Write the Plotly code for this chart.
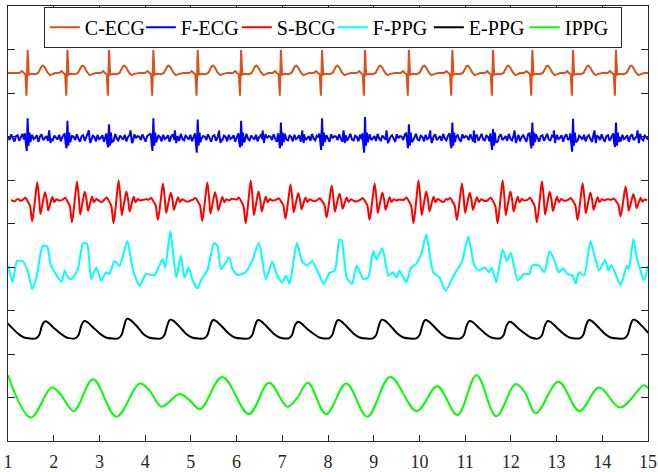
import numpy as np
import plotly.graph_objects as go

# ---------------- data ----------------
# R-peak (beat) times, seconds
r_peaks = [1.43, 2.30, 3.21, 4.18, 5.15, 6.10, 6.97, 7.87, 8.81, 9.77, 10.72, 11.61, 12.47, 13.36, 14.30]

# C-ECG: baseline and one beat shape (offset from R in s, value above baseline)
c_ecg_base = 8.46
c_ecg_off = [-0.30, -0.18, -0.13, -0.09, -0.05, -0.025, 0.0, 0.025, 0.08, 0.16, 0.23, 0.27, 0.31, 0.34, 0.38, 0.43, 0.49, 0.56, 0.62]
c_ecg_val = [0.0, 0.0, 0.045, 0.0, -0.03, -0.52, 0.53, -0.04, -0.02, -0.03, 0.0, 0.08, 0.16, 0.17, 0.12, 0.02, -0.05, -0.02, 0.0]

# F-ECG: baseline, spike tops / bottoms per beat, texture of the noise
f_ecg_base = 6.97
f_ecg_top = [0.45, 0.39, 0.31, 0.45, 0.42, 0.39, 0.35, 0.45, 0.48, 0.31, 0.35, 0.20, 0.35, 0.44, 0.35]
f_ecg_bot = [-0.30, -0.24, -0.22, -0.30, -0.34, -0.22, -0.24, -0.28, -0.34, -0.24, -0.24, -0.28, -0.24, -0.32, -0.21]
noise_pattern = [0.3, -0.5, 0.8, -0.2, -0.9, 0.4, 0.6, -0.7, 0.1, 0.9, -0.4, -0.6, 0.5, 0.2, -0.8, 0.7, -0.3, 0.0,
                 0.6, -0.9, 0.3, 0.8, -0.5, -0.1, 0.4, -0.7, 0.9, -0.2, -0.6, 0.5, 0.1, -0.4, 0.7, -0.8, 0.2, 0.6,
                 -0.3, -0.9, 0.8, -0.1, 0.4]

# S-BCG: baseline, burst shape after each beat, per-beat burst size
s_bcg_base = 5.53
s_bcg_off = [-0.10, -0.05, 0.0, 0.05, 0.10, 0.16, 0.21, 0.25, 0.28, 0.33, 0.38, 0.42, 0.45, 0.50, 0.54, 0.58, 0.63, 0.68]
s_bcg_val = [0.02, 0.06, -0.02, -0.12, -0.48, 0.0, 0.42, 0.05, -0.31, -0.05, 0.19, 0.0, -0.23, -0.05, 0.08, -0.04, 0.03, 0.0]
s_bcg_size = [1.0, 1.04, 1.09, 0.93, 0.98, 1.09, 0.87, 0.82, 0.93, 1.09, 0.93, 1.09, 1.05, 0.94, 0.76]

# F-PPG: traced points
f_ppg_x = [1.01, 1.10, 1.20, 1.33, 1.44, 1.53, 1.63, 1.76, 1.86, 1.93, 2.02, 2.17, 2.24, 2.31, 2.39, 2.53, 2.64, 2.73,
           2.82, 2.93, 3.04, 3.15, 3.22, 3.33, 3.44, 3.61, 3.73, 3.88, 4.02, 4.20, 4.38, 4.44, 4.55, 4.68, 4.78, 4.86,
           4.95, 5.04, 5.15, 5.22, 5.36, 5.51, 5.58, 5.66, 5.84, 5.91, 6.02, 6.20, 6.34, 6.49, 6.64, 6.78, 6.89, 7.00,
           7.08, 7.16, 7.22, 7.32, 7.43, 7.54, 7.65, 7.80, 7.91, 8.03, 8.15, 8.25, 8.30, 8.41, 8.52, 8.63, 8.70, 8.77,
           8.88, 8.99, 9.06, 9.19, 9.32, 9.42, 9.50, 9.56, 9.71, 9.82, 9.93, 10.04, 10.15, 10.30, 10.44, 10.57, 10.77,
           10.93, 11.07, 11.20, 11.31, 11.42, 11.53, 11.58, 11.68, 11.82, 11.91, 12.00, 12.15, 12.29, 12.40, 12.47,
           12.62, 12.73, 12.85, 12.98, 13.05, 13.14, 13.24, 13.35, 13.42, 13.49, 13.60, 13.74, 13.84, 13.93, 14.06,
           14.13, 14.20, 14.29, 14.40, 14.54, 14.58, 14.68, 14.76, 14.83, 14.91, 15.00]
f_ppg_y = [4.03, 3.65, 4.14, 4.12, 3.88, 3.49, 3.80, 4.49, 4.47, 4.07, 3.88, 3.66, 3.92, 3.76, 3.72, 3.95, 4.55, 4.53,
           3.72, 3.99, 3.69, 3.88, 3.84, 4.14, 4.03, 4.60, 3.95, 3.57, 3.84, 3.81, 4.18, 3.99, 4.82, 3.76, 4.26, 3.76,
           3.99, 3.69, 3.51, 3.69, 3.92, 4.55, 4.49, 3.95, 4.22, 3.95, 3.82, 3.88, 4.14, 4.56, 3.72, 4.12, 3.80, 3.65,
           3.80, 3.62, 3.95, 4.55, 4.14, 4.03, 4.14, 3.84, 3.61, 3.86, 3.92, 4.63, 4.60, 3.76, 3.61, 4.03, 3.88, 3.72,
           3.76, 4.37, 4.17, 4.43, 3.80, 3.88, 3.76, 3.92, 3.65, 3.99, 4.07, 4.30, 4.75, 3.88, 3.76, 3.46, 3.84,
           4.12, 4.70, 4.03, 3.92, 3.99, 3.88, 3.99, 3.65, 4.40, 4.14, 4.32, 3.69, 3.84, 3.84, 4.04,
           4.03, 3.88, 4.37, 4.07, 3.88, 3.97, 3.84, 3.80, 3.62, 3.88, 3.80, 4.59, 4.22, 3.92, 4.16,
           3.92, 4.04, 3.84, 3.58, 4.03, 3.95, 4.64, 4.18, 3.95, 3.69, 4.03]

# E-PPG: pulse peak times and heights, trough level
e_ppg_peaks = [0.88, 1.81, 2.67, 3.61, 4.55, 5.49, 6.47, 7.34, 8.22, 9.18, 10.13, 11.10, 11.97, 12.81, 13.71, 14.68]
e_ppg_height = [2.77, 2.75, 2.76, 2.81, 2.79, 2.78, 2.78, 2.74, 2.78, 2.79, 2.78, 2.76, 2.74, 2.76, 2.78, 2.79]
e_ppg_trough = 2.36

# IPPG: traced extrema / shoulders
ippg_x = [1.00, 1.50, 1.95, 2.13, 2.44, 2.86, 3.37, 3.88, 4.09, 4.36, 4.75, 4.97, 5.20, 5.69, 6.27, 6.71, 7.11, 7.32,
          7.56, 7.96, 8.40, 8.86, 9.36, 9.94, 10.39, 10.83, 11.25, 11.68, 12.10, 12.30, 12.55, 13.04, 13.50, 13.93,
          14.39, 14.91, 15.00]
ippg_y = [1.51, 0.54, 1.23, 1.10, 0.69, 1.42, 0.56, 1.32, 1.17, 0.79, 1.08, 0.94, 0.73, 1.47, 0.62, 1.34, 0.79, 0.98,
          1.34, 0.62, 1.32, 0.56, 1.47, 0.69, 1.26, 0.60, 1.51, 0.57, 1.31, 1.13, 0.64, 1.36, 0.69, 1.23,
          0.77, 1.28, 1.21]

x_ticks = list(range(1, 16))
y_ticks = list(range(1, 10))

# ---------------- build traces ----------------
def c_ecg():
    xs, ys = [1.0], [c_ecg_base]
    for r in r_peaks:
        for o, v in zip(c_ecg_off, c_ecg_val):
            xs.append(r + o); ys.append(c_ecg_base + v)
    xs.append(15.0); ys.append(c_ecg_base)
    return xs, ys

def f_ecg():
    pts = []
    k = 0
    t = 1.0
    while t <= 15.0001:
        if min(abs(t - r) for r in r_peaks) > 0.07:
            pts.append((t, f_ecg_base + 0.10 * noise_pattern[k % len(noise_pattern)]))
        k += 1
        t += 0.035
    for i, r in enumerate(r_peaks):
        sp = [(-0.06, 0.10), (-0.04, -0.12), (-0.02, f_ecg_bot[i]), (0.0, f_ecg_top[i]),
              (0.02, -0.18), (0.04, 0.12), (0.06, -0.10)]
        for o, v in sp:
            pts.append((r + o, f_ecg_base + v))
        for o, v in [(0.47, 0.17), (0.50, -0.12)]:
            pts.append((r + o, f_ecg_base + v))
    pts.sort()
    return [p[0] for p in pts], [p[1] for p in pts]

def s_bcg():
    xs, ys = [], []
    k = 0
    starts = [1.0] + [r + s_bcg_off[-1] for r in r_peaks]
    ends = [r + s_bcg_off[0] for r in r_peaks] + [15.0]
    for i in range(len(starts)):
        t = starts[i] + 0.07
        while t < ends[i] - 0.03:
            xs.append(t); ys.append(s_bcg_base + 0.045 * noise_pattern[k % len(noise_pattern)])
            k += 1
            t += 0.07
        if i < len(r_peaks):
            for o, v in zip(s_bcg_off, s_bcg_val):
                xs.append(r_peaks[i] + o); ys.append(s_bcg_base + v * s_bcg_size[i])
    return xs, ys

def e_ppg():
    xs, ys = [], []
    for i in range(len(e_ppg_peaks)):
        p, h = e_ppg_peaks[i], e_ppg_height[i]
        xs += [p, p + 0.07, p + 0.20, p + 0.35, p + 0.47]
        ys += [h, h - 0.03, h - 0.16, e_ppg_trough + 0.10, e_ppg_trough + 0.02]
        if i + 1 < len(e_ppg_peaks):
            pn, hn = e_ppg_peaks[i + 1], e_ppg_height[i + 1]
            xs += [pn - 0.20, pn - 0.13, pn - 0.07, pn - 0.03]
            ys += [e_ppg_trough, e_ppg_trough + 0.07, e_ppg_trough + 0.28, hn - 0.03]
    return xs, ys

fig = go.Figure()
cx, cy = c_ecg()
fig.add_trace(go.Scatter(x=cx, y=cy, mode='lines', name='C-ECG', line=dict(color='#D95319', width=2)))
fx, fy = f_ecg()
fig.add_trace(go.Scatter(x=fx, y=fy, mode='lines', name='F-ECG', line=dict(color='#0000FF', width=2)))
sx, sy = s_bcg()
fig.add_trace(go.Scatter(x=sx, y=sy, mode='lines', name='S-BCG', line=dict(color='#FF0000', width=2, shape='spline', smoothing=0.8)))
fig.add_trace(go.Scatter(x=f_ppg_x, y=f_ppg_y, mode='lines', name='F-PPG', line=dict(color='#00FFFF', width=2, shape='spline', smoothing=0.6)))
ex, ey = e_ppg()
fig.add_trace(go.Scatter(x=ex, y=ey, mode='lines', name='E-PPG', line=dict(color='#000000', width=2, shape='spline', smoothing=0.8)))
fig.add_trace(go.Scatter(x=ippg_x, y=ippg_y, mode='lines', name='IPPG', line=dict(color='#00FF00', width=2, shape='spline', smoothing=1.0)))

fig.update_layout(
    width=658, height=472,
    margin=dict(l=8, r=10, t=6, b=31, autoexpand=False),
    paper_bgcolor='white', plot_bgcolor='white',
    font=dict(family='Liberation Serif', size=18, color='#262626'),
    legend=dict(orientation='h', x=0.056, xanchor='left', y=0.998, yanchor='top',
                bordercolor='#262626', borderwidth=1, bgcolor='white',
                font=dict(size=20, color='#000000'), itemwidth=30,
                entrywidth=51, entrywidthmode='pixels'),
)
fig.update_xaxes(range=[1, 15], tickvals=x_ticks, ticks='inside', ticklen=6, tickcolor='#262626',
                 showline=True, linecolor='#262626', linewidth=1, mirror='ticks', automargin=False,
                 showgrid=False, zeroline=False, ticklabeloverflow='allow', ticklabelstandoff=4)
fig.update_yaxes(range=[0, 10], tickvals=y_ticks, ticks='inside', ticklen=7, tickcolor='#262626',
                 showticklabels=False, showline=True, linecolor='#262626', linewidth=1, mirror='ticks',
                 automargin=False, showgrid=False, zeroline=False)

fig.write_html("out.html", config={'displayModeBar': False},
               post_script="document.body.style.margin='0';")
